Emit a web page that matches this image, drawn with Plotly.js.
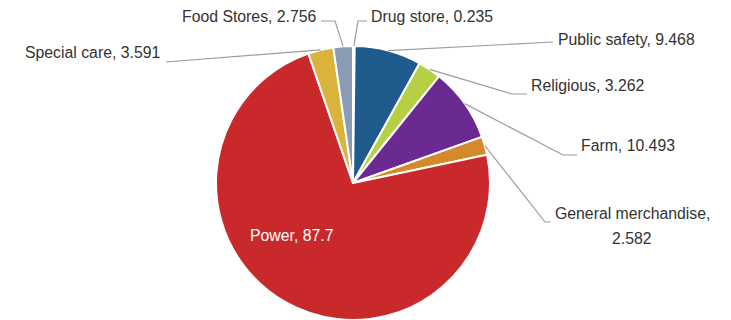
<!DOCTYPE html>
<html>
<head>
<meta charset="utf-8">
<script src="https://cdn.plot.ly/plotly-3.0.1.min.js"></script>
<style>
html, body { margin: 0; padding: 0; overflow: hidden; background: #fff; }
#chart { width: 731px; height: 400px; }
</style>
</head>
<body>
<div id="chart"></div>
<script>
// ---- data ----
const categories = ['Drug store', 'Public safety', 'Religious', 'Farm', 'General merchandise', 'Power', 'Special care', 'Food Stores'];
const values = [0.235, 9.468, 3.262, 10.493, 2.582, 87.7, 3.591, 2.756];
const valueLabels = ['0.235', '9.468', '3.262', '10.493', '2.582', '87.7', '3.591', '2.756'];

// ---- styles ----
const colors = ['#a9c4d6', '#1f5b8d', '#b6cf45', '#6a2a92', '#d4892b', '#c9292a', '#d9b33b', '#8b9bb6'];

const W = 731, H = 400;
const CX = 353, CY = 183, R = 137;   // pie centre / radius in pixels

// label layout: text anchor position and leader path points (label side)
const labelLayout = {
  'Drug store':          {x: 369, y: 17, anchor: 'left',  pts: [[367, 21], [358, 21]]},
  'Public safety':       {x: 556, y: 40, anchor: 'left',  pts: [[553, 42]]},
  'Religious':           {x: 529, y: 86, anchor: 'left',  pts: [[527, 94], [512, 94]]},
  'Farm':                {x: 579, y: 145, anchor: 'left', pts: [[577, 155], [563, 155]]},
  'General merchandise': {x: 632, y: 213, anchor: 'center', pts: [[551, 222], [545, 222]], split: true},
  'Special care':        {x: 162, y: 53, anchor: 'right', pts: [[166, 62]]},
  'Food Stores':         {x: 319, y: 17, anchor: 'right', pts: [[321, 21], [335, 21]]}
};

const px2x = p => p / W;
const px2y = p => (H - p) / H;

const total = values.reduce((a, b) => a + b, 0);
const annotations = [];
const shapes = [];
let cum = 0;
const font = {family: 'Liberation Sans, Arial, sans-serif', size: 15.8, color: '#333333'};

categories.forEach((c, i) => {
  const mid = (cum + values[i] / 2) / total * 2 * Math.PI;
  cum += values[i];
  const ex = CX + R * Math.sin(mid);
  const ey = CY - R * Math.cos(mid);
  const text = c + ', ' + valueLabels[i];
  if (c === 'Power') {
    annotations.push({
      xref: 'paper', yref: 'paper', x: px2x(291), y: px2y(235),
      xanchor: 'center', yanchor: 'middle', showarrow: false,
      text: text, font: Object.assign({}, font, {color: '#ffffff'})
    });
    return;
  }
  const L = labelLayout[c];
  if (L.split) {
    annotations.push({xref: 'paper', yref: 'paper', x: px2x(L.x), y: px2y(L.y),
      xanchor: 'center', yanchor: 'middle', showarrow: false, text: c + ',', font: font});
    annotations.push({xref: 'paper', yref: 'paper', x: px2x(L.x), y: px2y(L.y + 25),
      xanchor: 'center', yanchor: 'middle', showarrow: false, text: valueLabels[i], font: font});
  } else {
    annotations.push({xref: 'paper', yref: 'paper', x: px2x(L.x), y: px2y(L.y),
      xanchor: L.anchor, yanchor: 'middle', showarrow: false, text: text, font: font});
  }
  const pts = L.pts.concat([[ex, ey]]);
  const path = pts.map((p, k) => (k === 0 ? 'M ' : 'L ') + px2x(p[0]).toFixed(5) + ' ' + px2y(p[1]).toFixed(5)).join(' ');
  shapes.push({type: 'path', xref: 'paper', yref: 'paper', path: path,
    line: {color: '#9c9c9c', width: 1.2}});
});

const trace = {
  type: 'pie',
  labels: categories,
  values: values,
  sort: false,
  direction: 'clockwise',
  rotation: 0,
  textinfo: 'none',
  hoverinfo: 'label+value',
  marker: {colors: colors, line: {color: '#ffffff', width: 2}},
  domain: {x: [(CX - R) / W, (CX + R) / W], y: [(H - CY - R) / H, (H - CY + R) / H]},
  showlegend: false
};

const layout = {
  width: W, height: H,
  margin: {l: 0, r: 0, t: 0, b: 0},
  paper_bgcolor: '#ffffff',
  showlegend: false,
  annotations: annotations,
  shapes: shapes
};

Plotly.newPlot('chart', [trace], layout, {displayModeBar: false, staticPlot: true});
</script>
</body>
</html>
